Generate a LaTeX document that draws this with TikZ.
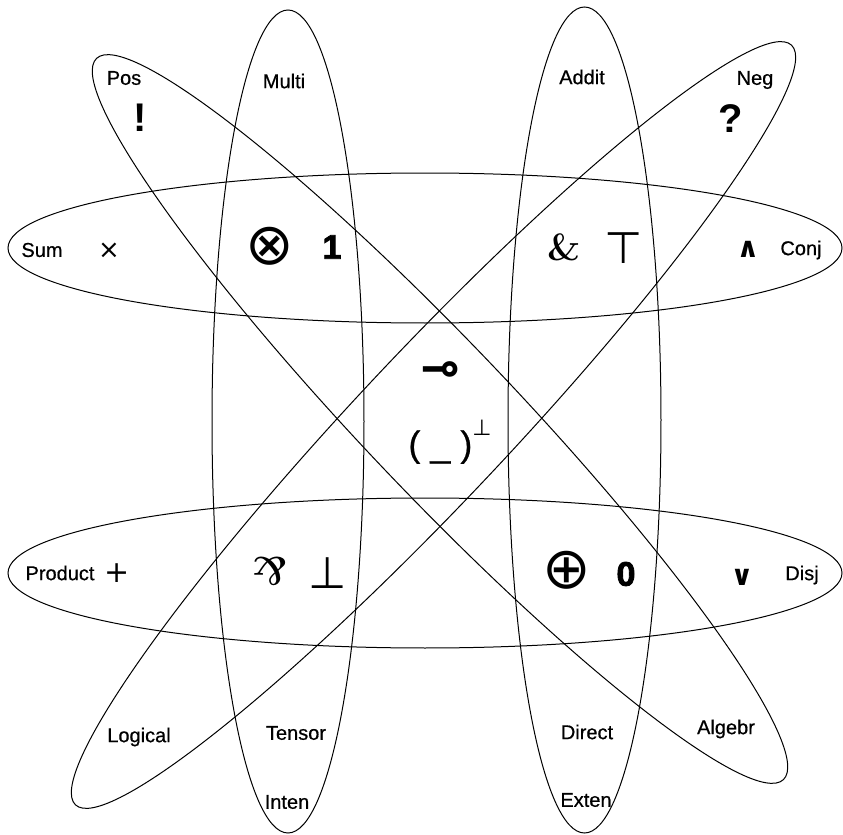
\documentclass[tikz,border=0pt]{standalone}
\usepackage{fontspec}
\usepackage{graphicx}
\setmainfont{Liberation Sans}
\newfontfamily\labelfont[FakeBold=0.6]{Liberation Sans}
\newfontfamily\heavyfont[FakeBold=2.5]{Liberation Sans Bold}
\newfontfamily\symfont{DejaVu Sans}
\newfontfamily\serfont{Latin Modern Roman}

\providecommand{\colorSetLine}{black}
\providecommand{\setlinethickness}{0.5pt}

\begin{document}
\begin{tikzpicture}[
    x=0.5pt, y=-0.5pt,
    % Set style
    set_line/.style={
        draw=\colorSetLine,
        line width=\setlinethickness
    },
    % Text styles
    set_label/.style={
        font=\fontsize{10}{12}\labelfont,
        inner sep=0pt
    },
    op_symbol/.style={
        font=\fontsize{22}{24}\symfont,
        inner sep=0pt
    },
    op_circle/.style={
        font=\fontsize{29}{30}\symfont,
        inner sep=0pt
    },
    op_small/.style={
        font=\fontsize{13}{14}\symfont,
        inner sep=0pt
    },
    op_unit/.style={
        font=\fontsize{17}{18}\heavyfont,
        inner sep=0pt
    },
    op_expo/.style={
        font=\fontsize{20}{22}\bfseries,
        inner sep=0pt
    },
    op_amp/.style={
        font=\fontsize{20}{22}\serfont\bfseries,
        inner sep=0pt
    }
]
    \useasboundingbox (0,0) rectangle (843,835);

    % ==================== SET CENTRES ====================
    \coordinate (sum_c)   at (425, 248);
    \coordinate (prod_c)  at (425, 573);
    \coordinate (multi_c) at (288, 421.5);
    \coordinate (addit_c) at (584.5, 420);
    \coordinate (pos_c)   at (440, 419);
    \coordinate (neg_c)   at (433.5, 425);

    % Horizontal sets
    \draw[set_line] (sum_c) ellipse [x radius=417, y radius=75];
    \draw[set_line] (prod_c) ellipse [x radius=417, y radius=75];
    % Vertical sets
    \draw[set_line] (multi_c) ellipse [x radius=76, y radius=411.5];
    \draw[set_line] (addit_c) ellipse [x radius=76.5, y radius=413];
    % Diagonal sets
    \draw[set_line, rotate around={-46.4:(pos_c)}] (pos_c) ellipse [x radius=498, y radius=75];
    \draw[set_line, rotate around={46.7:(neg_c)}] (neg_c) ellipse [x radius=522, y radius=75];

    % ==================== SET NAMES ====================
    \node[set_label] (pos)     at (124, 78)  {Pos};
    \node[set_label] (multi)   at (284, 81)  {Multi};
    \node[set_label] (addit)   at (582, 77)  {Addit};
    \node[set_label] (neg)     at (755, 80)  {Neg};
    \node[set_label] (sum)     at (42, 250)  {Sum};
    \node[set_label] (conj)    at (801, 250) {Conj};
    \node[set_label] (product) at (60, 573)  {Product};
    \node[set_label] (disj)    at (802, 575) {Disj};
    \node[set_label] (logical) at (139, 737) {Logical};
    \node[set_label] (tensor)  at (296, 733) {Tensor};
    \node[set_label] (direct)  at (587, 732) {Direct};
    \node[set_label] (algebr)  at (726, 729) {Algebr};
    \node[set_label] (inten)   at (287, 802) {Inten};
    \node[set_label] (exten)   at (586, 800) {Exten};

    % ==================== CONNECTIVES ====================
    \node[op_expo] (bang)  at (140, 118) {!};
    \node[op_expo] (quest) at (731, 119) {?};
    \node[op_small] (times) at (109, 251) {×};
    \node[op_small, font=\fontsize{15}{16}\symfont] (plus) at (117, 573) {+};
    \node[op_small, font=\fontsize{14}{15}\symfont\bfseries] (wedge) at (748, 249) {∧};
    \node[op_small, font=\fontsize{14}{15}\symfont\bfseries] (vee)   at (742, 577) {∨};

    % Multiplicatives
    \node[op_circle] (otimes) at (270, 246) {⊗};
    \node[op_unit] (one) at (332, 247) {1};
    \node[op_amp] (parr) at (270, 571) {\rotatebox{180}{\&}};
    \node[op_symbol] (bot) at (328, 573) {⊥};

    % Additives
    \node[op_amp, font=\fontsize{19}{20}\serfont\bfseries] (with) at (564, 247) {\&};
    \node[op_symbol] (top) at (624, 248) {⊤};
    \node[op_circle] (oplus) at (567, 570) {⊕};
    \node[op_unit] (zero) at (626, 574) {0};

    % Centre: linear implication and negation
    \node[op_symbol, font=\fontsize{24}{26}\symfont\bfseries] (lolli) at (441, 373) {⊸};
    \node[op_symbol, font=\fontsize{18}{20}\labelfont] (dual) at (450, 442)
        {( \_ )\raisebox{1.1ex}{\fontsize{11}{12}\symfont ⊥}};

\end{tikzpicture}
\end{document}
